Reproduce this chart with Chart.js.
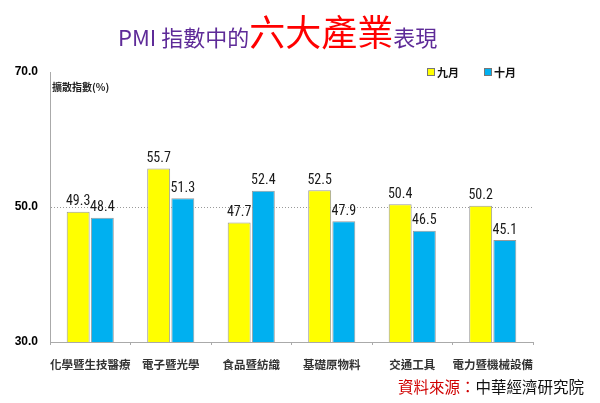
<!DOCTYPE html>
<html>
<head>
<meta charset="utf-8">
<script src="https://cdn.jsdelivr.net/npm/chart.js@4"></script>
<style>
  html, body { margin: 0; padding: 0; background: #fff; }
  #wrap { position: relative; width: 600px; height: 403px; overflow: hidden; }
  #chart { position: absolute; left: 0; top: 0; }
  .title { position: absolute; left: 0; width: 600px; top: 8px; text-align: left; padding-left: 118px; box-sizing: border-box;
           font-family: "Noto Sans CJK TC", sans-serif; color: #5e2b98; font-size: 22px; line-height: 44px; white-space: nowrap; }
  .title .big { color: #ff0000; font-size: 36px; }
  .ytitle { position: absolute; left: 52px; top: 79px; font-family: "Noto Sans CJK TC", sans-serif; font-weight: bold; font-size: 10px; color: #222; }
  .legend { position: absolute; top: 64px; font-family: "Noto Sans CJK TC", sans-serif; font-weight: bold; font-size: 11px; color: #111; }
  .legend span.sw { display: inline-block; width: 6px; height: 6px; border: 1px solid #777; margin-right: 2px; vertical-align: 1px; }
  .source { position: absolute; right: 16px; top: 375px; font-family: "Noto Sans CJK TC", sans-serif; font-size: 15.5px; color: #111; white-space: nowrap; }
  .source span { color: #d00000; }
</style>
</head>
<body>
<div id="wrap">
  <canvas id="chart" width="600" height="403"></canvas>
  <div class="title">PMI 指數中的<span class="big">六大產業</span>表現</div>
  <div class="ytitle">擴散指數(%)</div>
  <div class="legend" style="left:427px"><span class="sw" style="background:#ffff00"></span>九月</div>
  <div class="legend" style="left:484px"><span class="sw" style="background:#00b0f0"></span>十月</div>
  <div class="source"><span>資料來源：</span>中華經濟研究院</div>
</div>
<script>
const categories = ['化學暨生技醫療', '電子暨光學', '食品暨紡織', '基礎原物料', '交通工具', '電力暨機械設備'];
const september = [49.3, 55.7, 47.7, 52.5, 50.4, 50.2];
const october   = [48.4, 51.3, 52.4, 47.9, 46.5, 45.1];
const yTicks    = [30, 50, 70];

const valueLabels = {
  id: 'valueLabels',
  afterDatasetsDraw(chart) {
    const ctx = chart.ctx;
    ctx.save();
    ctx.font = '14px "Liberation Sans Narrow", "Roboto Condensed", Roboto, sans-serif';
    ctx.fillStyle = '#1a1a1a';
    ctx.textAlign = 'center';
    ctx.textBaseline = 'bottom';
    chart.data.datasets.forEach((ds, i) => {
      chart.getDatasetMeta(i).data.forEach((bar, j) => {
        ctx.fillText(ds.data[j].toFixed(1), bar.x, bar.y - 3);
      });
    });
    ctx.restore();
  }
};

new Chart(document.getElementById('chart'), {
  type: 'bar',
  data: {
    labels: categories,
    datasets: [
      { label: '九月', data: september, backgroundColor: '#ffff00', borderColor: '#9a9a9a', borderWidth: 1,
        barPercentage: 0.95, categoryPercentage: 0.6 },
      { label: '十月', data: october, backgroundColor: '#00b0f0', borderColor: '#9a9a9a', borderWidth: 1,
        barPercentage: 0.95, categoryPercentage: 0.6 }
    ]
  },
  options: {
    responsive: false,
    animation: false,
    layout: { padding: { left: 0, right: 67, top: 72, bottom: 0 } },
    plugins: { legend: { display: false }, tooltip: { enabled: false } },
    scales: {
      x: {
        afterFit(s) { s.height = 61; },
        grid: { offset: true, drawOnChartArea: false, drawTicks: true, tickLength: 3, color: '#aaa' },
        border: { color: '#aaa' },
        ticks: { color: '#333', padding: 13, maxRotation: 0, autoSkip: false,
                 font: { family: '"Noto Sans CJK TC", sans-serif', size: 11.5, weight: 'bold' } }
      },
      y: {
        min: 30, max: 70,
        afterFit(s) { s.width = 50; },
        afterBuildTicks(s) { s.ticks = yTicks.map(v => ({ value: v })); },
        grid: { drawTicks: false, color: ctx => ctx.tick && ctx.tick.value === 50 ? '#999' : 'rgba(0,0,0,0)' },
        border: { color: '#aaa', dash: [1, 2] },
        ticks: { color: '#000', padding: 12, callback: v => Number(v).toFixed(1),
                 font: { family: '"Liberation Sans", Arial, sans-serif', size: 12, weight: 'bold' } }
      }
    }
  },
  plugins: [valueLabels]
});
</script>
</body>
</html>
